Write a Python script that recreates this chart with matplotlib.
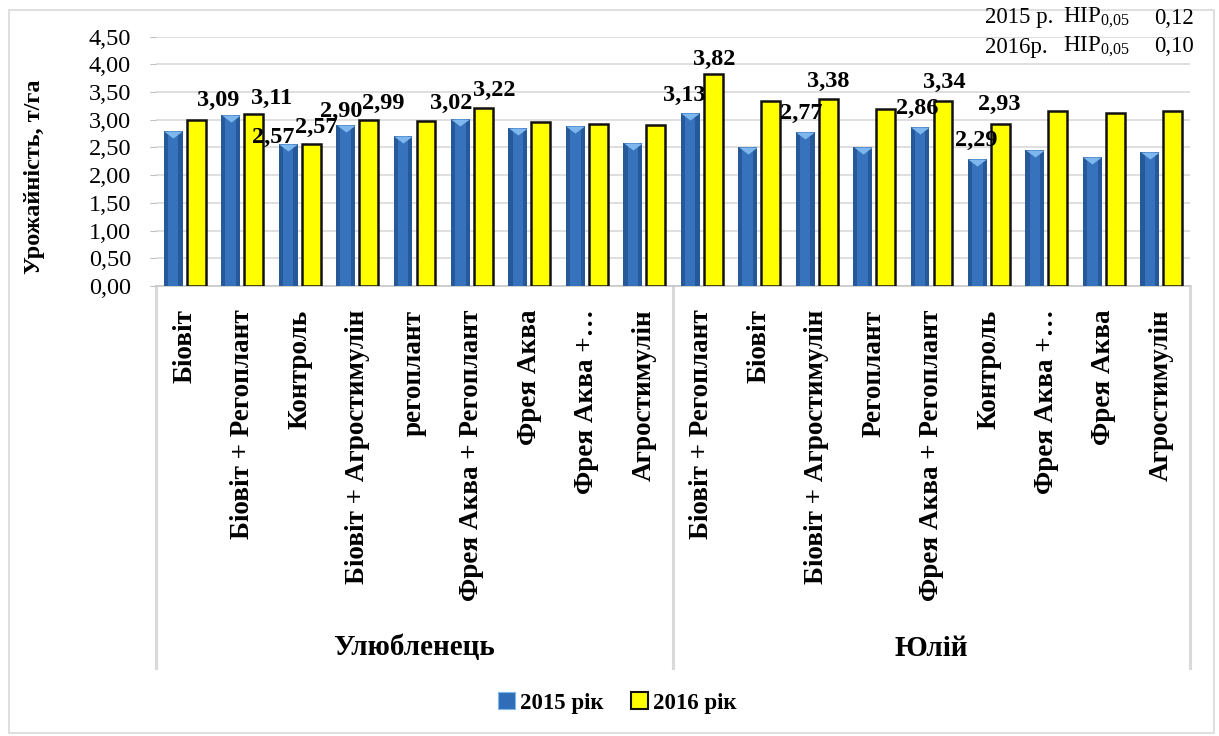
import matplotlib
matplotlib.use('Agg')
import matplotlib.pyplot as plt
import numpy as np
from matplotlib.patches import Patch, Rectangle
from matplotlib.path import Path
import matplotlib.transforms as mtransforms

plt.rcParams['font.family'] = ['Liberation Serif', 'DejaVu Serif']
plt.rcParams['mathtext.fontset'] = 'custom'
plt.rcParams['mathtext.rm'] = 'Liberation Serif'

# data
groups = ['Улюбленець', 'Юлій']
cats_1 = ['Біовіт', 'Біовіт + Регоплант', 'Контроль', 'Біовіт + Агростимулін',
          'регоплант', 'Фрея Аква + Регоплант', 'Фрея Аква', 'Фрея Аква +…',
          'Агростимулін']
cats_2 = ['Біовіт + Регоплант', 'Біовіт', 'Біовіт + Агростимулін', 'Регоплант',
          'Фрея Аква + Регоплант', 'Контроль', 'Фрея Аква +…', 'Фрея Аква',
          'Агростимулін']
y2015 = [2.80, 3.09, 2.57, 2.90, 2.70, 3.02, 2.85, 2.88, 2.58,
         3.13, 2.51, 2.77, 2.51, 2.86, 2.29, 2.45, 2.32, 2.42]
y2016 = [3.00, 3.11, 2.57, 2.99, 2.97, 3.22, 2.96, 2.93, 2.91,
         3.82, 3.33, 3.38, 3.19, 3.34, 2.93, 3.15, 3.13, 3.15]
# which bars carry a value label
lab2015 = [0, 1, 1, 1, 0, 1, 0, 0, 0, 1, 0, 1, 0, 1, 1, 0, 0, 0]
lab2016 = [0, 1, 1, 1, 0, 1, 0, 0, 0, 1, 0, 1, 0, 1, 1, 0, 0, 0]
nir_years = ['2015 р.', '2016р.']
nir_vals = ['0,12', '0,10']

# label nudges in pixels (dx, dy above bar top), as placed in the original
nudge2015 = {1: (-12, 14), 2: (-15, 6), 3: (-4, 14), 5: (-9, 15),
             9: (-6, 17), 11: (-4, 19), 13: (-3, 19), 14: (-1, 19)}
nudge2016 = {1: (18, 15), 2: (5, 16), 3: (15, 17), 5: (11, 17),
             9: (1, 15), 11: (0, 17), 13: (1, 18), 14: (-1, 19)}

W, H = 1219, 736
fig = plt.figure(figsize=(W / 100, H / 100), dpi=100)
ax = fig.add_axes([156 / W, 1 - 286 / H, (1190 - 156) / W, (286 - 36.6) / H])

cats = cats_1 + cats_2
x = np.arange(len(cats))
bw = 0.33
off = 0.2
grid_c = '#D9D9D9'

ax.bar(x - off, y2015, bw, color='#25599A', zorder=3)
ax.bar(x - off, y2015, bw * 0.55, color='#3673BC', zorder=3)
ax.bar(x + off, y2016, bw, color='#FFFF00', edgecolor='#111111', linewidth=1.8, zorder=3)

# bevel triangle on top of blue bars
tri = Path([(-1, 0), (1, 0), (0, -0.75), (-1, 0)],
           [Path.MOVETO, Path.LINETO, Path.LINETO, Path.CLOSEPOLY])
ax.plot(x - off, y2015, linestyle='none', marker=tri, markersize=13.5,
        color='#7DB7EE', markeredgewidth=0, zorder=4)

px = 0.72  # points per pixel
for i in x:
    if lab2015[i]:
        dx, dy = nudge2015.get(i, (0, 17))
        ax.annotate(f'{y2015[i]:.2f}'.replace('.', ','), (i - off, y2015[i]),
                    xytext=(dx * px, dy * px), textcoords='offset points',
                    ha='center', va='center', fontsize=17.5, fontweight='bold', zorder=5)
    if lab2016[i]:
        dx, dy = nudge2016.get(i, (0, 17))
        ax.annotate(f'{y2016[i]:.2f}'.replace('.', ','), (i + off, y2016[i]),
                    xytext=(dx * px, dy * px), textcoords='offset points',
                    ha='center', va='center', fontsize=17.5, fontweight='bold', zorder=5)

ax.set_xlim(-0.5, len(cats) - 0.5)
ax.set_ylim(0, 4.5)
yt = np.arange(0, 4.51, 0.5)
ax.set_yticks(yt)
ax.set_yticklabels([f'{v:.2f}'.replace('.', ',') for v in yt], fontsize=17.5)
ax.yaxis.grid(True, color=grid_c, linewidth=1.2, zorder=0)
ax.tick_params(axis='y', length=4, color='#BFBFBF', pad=14)
ax.set_axisbelow(True)

ax.set_xticks(x)
ax.set_xticklabels(cats, rotation=90, fontsize=19.5, fontweight='bold', va='top')
ax.tick_params(axis='x', length=0, pad=17)

for s in ['top', 'right', 'left']:
    ax.spines[s].set_visible(False)
ax.spines['bottom'].set_color('#C8C8C8')
ax.spines['bottom'].set_linewidth(1.2)

ax.set_ylabel('Урожайність, т/га', fontsize=17.5, fontweight='bold')
ax.yaxis.set_label_coords(-0.107, 0.44)

# multi-level category box
ax_h = 286 - 36.6
trans = mtransforms.blended_transform_factory(ax.transData, ax.transAxes)
y_end = -(668 - 286) / ax_h
for xv in [-0.5, 8.5, 17.5]:
    ax.plot([xv, xv], [0, y_end], transform=trans, color=grid_c, lw=2.2,
            clip_on=False, zorder=1)
y_grp = -(648 - 286) / ax_h
for gi, g in enumerate(groups):
    ax.text(gi * 9 + 4, y_grp, g, transform=trans, ha='center', va='center',
            fontsize=21, fontweight='bold')

# legend
handles = [Patch(facecolor='#2F6DB8', edgecolor='#7DB7EE', linewidth=0.8),
           Patch(facecolor='#FFFF00', edgecolor='#111111', linewidth=1.5)]
fig.legend(handles, ['2015 рік', '2016 рік'], loc='center',
           bbox_to_anchor=(617 / W, 1 - 703 / H), ncol=2, frameon=False,
           prop={'weight': 'bold', 'size': 16.5}, handlelength=0.75,
           handleheight=0.75, handletextpad=0.2, columnspacing=1.2)

# LSD note, top right
for k in range(len(nir_years)):
    yy = 1 - (18 + 29 * k) / H
    fig.text(985 / W, yy, nir_years[k], ha='left', va='center', fontsize=16.5)
    fig.text(1063 / W, yy, r'НІР$_{0{,}05}$', ha='left', va='center', fontsize=16.5)
    fig.text(1194 / W, yy, nir_vals[k], ha='right', va='center', fontsize=16.5)

# chart area border
fig.patches.append(Rectangle((9 / W, 3 / H), (1214 - 9) / W, (733 - 10) / H,
                             transform=fig.transFigure, fill=False,
                             edgecolor=grid_c, linewidth=1.2))

fig.savefig('out.png', dpi=100)
